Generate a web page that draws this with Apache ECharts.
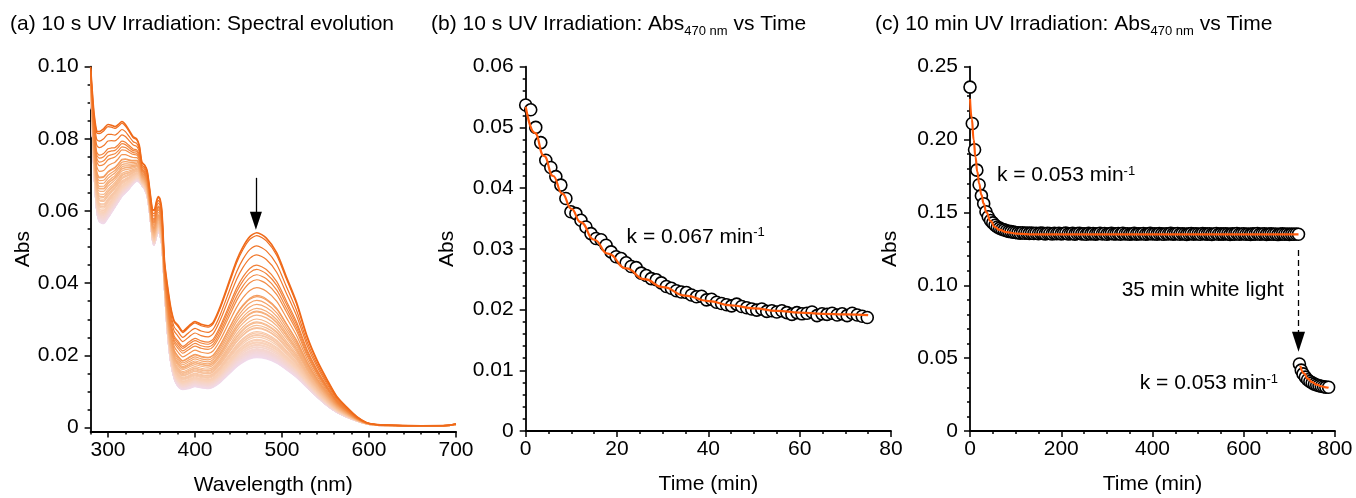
<!DOCTYPE html>
<html><head><meta charset="utf-8">
<script src="https://cdn.jsdelivr.net/npm/echarts@6/dist/echarts.min.js"></script>
<style>html,body{margin:0;padding:0;background:#fff}#c{width:1356px;height:498px}</style>
</head><body><div id="c"></div>
<script>
const FONT = '"Liberation Sans", Arial, sans-serif';

// ---------- Panel (a): spectra ----------
const wavelengths = [280,282,284,287,290,295,300,304,308,312,316,320,324,329,333,336,339,342,345,348,351,353,356,358,360,362,365,368,372,376,380,386,393,400,407,415,421,429,440,448,455,463,471,482,494,505,517,529,540,552,563,575,586,597,610,630,660,690,700];
const spectrumFirst = [0.1000,0.0930,0.0870,0.0822,0.0820,0.0828,0.0840,0.0838,0.0834,0.0840,0.0848,0.0840,0.0825,0.0806,0.0800,0.0782,0.0735,0.0728,0.0712,0.0660,0.0605,0.0603,0.0630,0.0640,0.0632,0.0600,0.0460,0.0400,0.0335,0.0296,0.0285,0.0267,0.0282,0.0294,0.0286,0.0282,0.0292,0.0335,0.0410,0.0464,0.0500,0.0529,0.0540,0.0525,0.0484,0.0418,0.0345,0.0252,0.0188,0.0132,0.0086,0.0055,0.0030,0.0014,0.0008,0.0006,0.0005,0.0006,0.0010];
const spectrumLast = [0.0960,0.0820,0.0700,0.0600,0.0570,0.0565,0.0580,0.0595,0.0610,0.0625,0.0640,0.0650,0.0660,0.0675,0.0682,0.0680,0.0670,0.0660,0.0640,0.0590,0.0520,0.0505,0.0530,0.0540,0.0530,0.0500,0.0380,0.0270,0.0180,0.0135,0.0115,0.0105,0.0108,0.0113,0.0110,0.0108,0.0112,0.0125,0.0150,0.0168,0.0180,0.0190,0.0194,0.0190,0.0178,0.0160,0.0138,0.0110,0.0085,0.0060,0.0042,0.0028,0.0018,0.0010,0.0006,0.0005,0.0004,0.0005,0.0008];
const ticksAx = [300,400,500,600,700];
const ticksAxMinor = [280,320,340,360,380,420,440,460,480,520,540,560,580,620,640,660,680];
const ticksAy = [0,0.02,0.04,0.06,0.08,0.10];
const ticksAyMinor = [0.005,0.01,0.015,0.025,0.03,0.035,0.045,0.05,0.055,0.065,0.07,0.075,0.085,0.09,0.095];

// ---------- Panel (b) ----------
const timeB = [0,1.1,2.2,3.3,4.4,5.5,6.6,7.7,8.8,9.9,11,12.1,13.2,14.3,15.4,16.5,17.6,18.7,19.8,20.9,22,23.1,24.2,25.3,26.4,27.5,28.6,29.7,30.8,31.9,33,34.1,35.2,36.3,37.4,38.5,39.6,40.7,41.8,42.9,44,45.1,46.2,47.3,48.4,49.5,50.6,51.7,52.8,53.9,55,56.1,57.2,58.3,59.4,60.5,61.6,62.7,63.8,64.9,66,67.1,68.2,69.3,70.4,71.5,72.6,73.7,74.8];
const absB = [0.0537,0.0529,0.0500,0.0475,0.0446,0.0434,0.0419,0.0405,0.0383,0.0361,0.0358,0.0347,0.0336,0.0325,0.0317,0.0315,0.0306,0.0295,0.0287,0.0284,0.0277,0.0271,0.0269,0.0260,0.0256,0.0251,0.0249,0.0244,0.0238,0.0235,0.0231,0.0229,0.0228,0.0224,0.0221,0.0222,0.0216,0.0217,0.0212,0.0210,0.0208,0.0206,0.0209,0.0205,0.0203,0.0201,0.0199,0.0201,0.0197,0.0198,0.0196,0.0198,0.0195,0.0192,0.0195,0.0193,0.0194,0.0196,0.0190,0.0193,0.0192,0.0194,0.0191,0.0193,0.0190,0.0194,0.0191,0.0189,0.0187];
const fitTimeB = [0,2,4,6,8,10,12,15,18,22,26,30,35,40,45,50,55,60,65,70,75];
const fitAbsB = [0.0534,0.0491,0.0453,0.0420,0.0391,0.0366,0.0344,0.0315,0.0292,0.0268,0.0250,0.0237,0.0223,0.0214,0.0207,0.0202,0.0198,0.0195,0.0193,0.0192,0.0191];

// ---------- Panel (c) ----------
const timeC1 = [0,5,10,15,20,25,30,35,40,45,50,55,60,65,70,75,80,85,90,95,
100,105,110,115,120,125,130,135,140,145,150,155,160,165,170,175,180,185,190,195,
200,205,210,215,220,225,230,235,240,245,250,255,260,265,270,275,280,285,290,295,
300,305,310,315,320,325,330,335,340,345,350,355,360,365,370,375,380,385,390,395,
400,405,410,415,420,425,430,435,440,445,450,455,460,465,470,475,480,485,490,495,
500,505,510,515,520,525,530,535,540,545,550,555,560,565,570,575,580,585,590,595,
600,605,610,615,620,625,630,635,640,645,650,655,660,665,670,675,680,685,690,695,
700,705,710,715,720];
const absC1 = [0.236,0.211,0.193,0.179,0.169,0.1615,0.156,0.1505,0.147,0.1445,0.1428,0.1412,0.1400,0.1392,0.1385,0.1380,0.1374,0.1370,0.1368,0.1365,
0.1362,0.1360,0.1358,0.1361,0.1357,0.1359,0.1356,0.1358,0.1355,0.1357,0.1354,0.1358,0.1356,0.1353,0.1357,0.1355,0.1352,0.1356,0.1354,0.1357,
0.1353,0.1355,0.1358,0.1352,0.1354,0.1356,0.1351,0.1355,0.1357,0.1353,0.1354,0.1350,0.1356,0.1353,0.1355,0.1351,0.1354,0.1357,0.1352,0.1355,
0.1350,0.1354,0.1356,0.1352,0.1353,0.1355,0.1351,0.1357,0.1352,0.1354,0.1350,0.1353,0.1356,0.1351,0.1354,0.1352,0.1355,0.1350,0.1353,0.1356,
0.1352,0.1354,0.1351,0.1355,0.1353,0.1350,0.1354,0.1352,0.1356,0.1351,0.1353,0.1355,0.1350,0.1354,0.1352,0.1349,0.1353,0.1355,0.1351,0.1354,
0.1352,0.1350,0.1355,0.1353,0.1351,0.1354,0.1349,0.1352,0.1355,0.1350,0.1353,0.1351,0.1354,0.1352,0.1349,0.1353,0.1351,0.1355,0.1350,0.1352,
0.1354,0.1350,0.1352,0.1349,0.1353,0.1351,0.1355,0.1350,0.1352,0.1354,0.1349,0.1351,0.1353,0.1350,0.1352,0.1348,0.1351,0.1353,0.1350,0.1352,
0.1349,0.1351,0.1350,0.1352,0.1350];
const timeC2 = [722,726,730,735,740,745,750,755,760,765,770,775,780,786];
const absC2 = [0.0460,0.0418,0.0392,0.0370,0.0352,0.0340,0.0330,0.0322,0.0316,0.0311,0.0307,0.0304,0.0301,0.0300];
const fitTimeC1 = [0,4,8,12,16,20,25,30,36,45,55,65,80,100,130,720];
const fitAbsC1 = [0.228,0.214,0.200,0.188,0.178,0.170,0.162,0.156,0.150,0.144,0.140,0.138,0.1365,0.1355,0.1350,0.1350];
const fitTimeC2 = [724,732,740,750,760,770,780,786];
const fitAbsC2 = [0.0447,0.0395,0.0360,0.0335,0.0318,0.0307,0.0300,0.0297];

// annotation anchors (data units)
const arrowA = [[470,0.0692],[470,0.0573]];
const arrowC = [[720,0.1242],[720,0.0613]];
const labelB = [22.1,0.0320];
const labelC1 = [59,0.1757];
const labelC2 = [688,0.0968];
const labelC3 = [675,0.0329];

// ---------- styles ----------
const black = '#000';
const orange = '#FF5A0A';
const axisLineStyle = {color:black, width:1.8};
const tickStyle = {color:black, width:1.5};
const labelStyle = {color:black, fontSize:21, fontFamily:FONT};
const nameStyle = {color:black, fontSize:21, fontFamily:FONT};
const yFmt = v => Math.abs(v) < 1e-9 ? '0' : v.toFixed(2);
const richK = {
  n:{fontSize:21, fontFamily:FONT, color:black},
  s:{fontSize:13, fontFamily:FONT, color:black, padding:[0,0,8,0]}
};

function zipXY(xs, ys){ return xs.map((x,i)=>[x, ys[i]]); }

const colorStops = [[0,[240,218,236]],[0.12,[249,210,186]],[0.35,[246,178,128]],[0.6,[243,142,72]],[1,[239,106,26]]];
function spectrumColor(f){
  for (let k=1;k<colorStops.length;k++){
    if (f <= colorStops[k][0]){
      const f0=colorStops[k-1][0], c0=colorStops[k-1][1], f1=colorStops[k][0], c1=colorStops[k][1];
      const t=(f-f0)/(f1-f0);
      return 'rgb('+c0.map((v,i)=>Math.round(v+(c1[i]-v)*t)).join(',')+')';
    }
  }
  return 'rgb(239,106,26)';
}

const series = [];
// spectra: one per kinetic point, weight from measured Abs470 of panel (b)
const nSpec = absB.length;
const aMax = absB[0], aMin = absB[nSpec-1];
for (let i = nSpec-1; i >= 0; i--) {
  let f = (absB[i]-aMin)/(aMax-aMin); f = Math.max(0, Math.min(1, f));
  const data = wavelengths.map((w,j)=>[w, spectrumLast[j] + (spectrumFirst[j]-spectrumLast[j])*f]);
  const s = {type:'line', xAxisIndex:0, yAxisIndex:0, data, symbol:'none', smooth:0.25, silent:true,
    lineStyle:{color:spectrumColor(f), width: i===0 ? 1.6 : 1.2}, z:2};
  if (i === 0) {
    s.markLine = {silent:true, animation:false, symbol:['none','triangle'], label:{show:false},
      lineStyle:{color:black, width:1.3, type:'solid'}, itemStyle:{color:black}, emphasis:{disabled:true},
      data:[[{coord:arrowA[0], symbol:'none'},{coord:arrowA[1], symbol:'triangle', symbolSize:[12,18]}]]};
  }
  series.push(s);
}

const dotStyle = {color:'#fff', borderColor:black, borderWidth:1.6, opacity:1};

// panel b
series.push({type:'scatter', xAxisIndex:2, yAxisIndex:2, data:zipXY(timeB,absB), symbol:'circle', symbolSize:12,
  itemStyle:dotStyle, silent:true, z:3});
series.push({type:'line', xAxisIndex:2, yAxisIndex:2, data:zipXY(fitTimeB,fitAbsB), symbol:'none', smooth:true, smoothMonotone:'x',
  lineStyle:{color:orange, width:2.2}, silent:true, z:4,
  markPoint:{silent:true, animation:false, symbol:'circle', symbolSize:0,
    data:[{coord:labelB, label:{show:true, position:'right', distance:0, formatter:'{n|k = 0.067 min}{s|-1}', rich:richK}}]}});

// panel c
series.push({type:'scatter', xAxisIndex:3, yAxisIndex:3, data:zipXY(timeC1,absC1).concat(zipXY(timeC2,absC2)), symbol:'circle', symbolSize:12,
  itemStyle:dotStyle, silent:true, z:3,
  markLine:{silent:true, animation:false, symbol:['none','triangle'], label:{show:false},
    lineStyle:{color:black, width:1.3, type:[6,4]}, itemStyle:{color:black}, emphasis:{disabled:true},
    data:[[{coord:arrowC[0], symbol:'none'},{coord:arrowC[1], symbol:'triangle', symbolSize:[13,20]}]]}});
series.push({type:'line', xAxisIndex:3, yAxisIndex:3, data:zipXY(fitTimeC1,fitAbsC1), symbol:'none', smooth:true, smoothMonotone:'x',
  lineStyle:{color:orange, width:2.2}, silent:true, z:4,
  markPoint:{silent:true, animation:false, symbol:'circle', symbolSize:0,
    data:[
      {coord:labelC1, label:{show:true, position:'right', distance:0, formatter:'{n|k = 0.053 min}{s|-1}', rich:richK}},
      {coord:labelC2, label:{show:true, position:'left', distance:0, formatter:'{n|35 min white light}', rich:richK}},
      {coord:labelC3, label:{show:true, position:'left', distance:0, formatter:'{n|k = 0.053 min}{s|-1}', rich:richK}}
    ]}});
series.push({type:'line', xAxisIndex:3, yAxisIndex:3, data:zipXY(fitTimeC2,fitAbsC2), symbol:'none', smooth:true, smoothMonotone:'x',
  lineStyle:{color:orange, width:2.2}, silent:true, z:4});

function majorX(grid, min, max, extra){
  return Object.assign({type:'value', gridIndex:grid, min, max, position:'bottom',
    axisLine:{show:true, onZero:false, lineStyle:axisLineStyle},
    axisTick:{show:true, length:6, lineStyle:tickStyle},
    axisLabel:Object.assign({margin:8}, labelStyle),
    splitLine:{show:false},
    name:'Wavelength (nm)', nameLocation:'middle', nameGap:43, nameTextStyle:nameStyle}, extra);
}
function majorY(grid, min, max, extra){
  return Object.assign({type:'value', gridIndex:grid, min, max, position:'left',
    axisLine:{show:true, onZero:false, lineStyle:axisLineStyle},
    axisTick:{show:true, length:6, lineStyle:tickStyle},
    axisLabel:Object.assign({margin:12, formatter:yFmt}, labelStyle),
    splitLine:{show:false},
    name:'Abs', nameLocation:'middle', nameGap:57, nameTextStyle:nameStyle}, extra);
}
const minorTick = n => ({show:true, splitNumber:n, length:3, lineStyle:tickStyle});

const option = {
  animation:false,
  backgroundColor:'#fff',
  grid:[
    {left:90.6, top:66.7, width:365.4, height:364.8, outerBoundsMode:'none', containLabel:false},
    {left:525.7, top:66.7, width:365.3, height:364.3, outerBoundsMode:'none', containLabel:false},
    {left:970, top:66.7, width:365, height:364.3, outerBoundsMode:'none', containLabel:false}
  ],
  xAxis:[
    majorX(0, 280, 700, {axisTick:{show:true, length:6, customValues:ticksAx, lineStyle:tickStyle},
      axisLabel:Object.assign({margin:8, customValues:ticksAx}, labelStyle)}),
    {type:'value', gridIndex:0, min:280, max:700, position:'bottom', offset:0, axisLine:{show:false, onZero:false},
      axisTick:{show:true, length:3, customValues:ticksAxMinor, lineStyle:tickStyle}, axisLabel:{show:false}, splitLine:{show:false}},
    majorX(1, 0, 80, {interval:20, name:'Time (min)', minorTick:minorTick(4)}),
    majorX(2, 0, 800, {interval:200, name:'Time (min)', minorTick:minorTick(4)})
  ],
  yAxis:[
    majorY(0, -0.0011, 0.1, {axisTick:{show:true, length:6, customValues:ticksAy, lineStyle:tickStyle},
      axisLabel:Object.assign({margin:12, formatter:yFmt, customValues:ticksAy}, labelStyle)}),
    {type:'value', gridIndex:0, min:-0.0011, max:0.1, position:'left', offset:0, axisLine:{show:false, onZero:false},
      axisTick:{show:true, length:3, customValues:ticksAyMinor, lineStyle:tickStyle}, axisLabel:{show:false}, splitLine:{show:false}},
    majorY(1, 0, 0.06, {interval:0.01, nameGap:68, minorTick:minorTick(5)}),
    majorY(2, 0, 0.25, {interval:0.05, nameGap:69, minorTick:minorTick(5)})
  ],
  graphic:[
    {type:'text', x:10, y:24, silent:true, style:{text:'(a) 10 s UV Irradiation: Spectral evolution', fontSize:21, fontFamily:FONT, fill:black, verticalAlign:'middle'}},
    {type:'text', x:431, y:24, silent:true, style:{text:'{m|(b) 10 s UV Irradiation: Abs}{s|470 nm}{m| vs Time}', fill:black, verticalAlign:'middle',
      rich:{m:{fontSize:21, fontFamily:FONT, fill:black}, s:{fontSize:13, fontFamily:FONT, fill:black, padding:[14,0,0,0]}}}},
    {type:'text', x:875, y:24, silent:true, style:{text:'{m|(c) 10 min UV Irradiation: Abs}{s|470 nm}{m| vs Time}', fill:black, verticalAlign:'middle',
      rich:{m:{fontSize:21, fontFamily:FONT, fill:black}, s:{fontSize:13, fontFamily:FONT, fill:black, padding:[14,0,0,0]}}}}
  ],
  series
};
const chart = echarts.init(document.getElementById('c'), null, {renderer:'canvas'});
chart.setOption(option);
</script></body></html>
